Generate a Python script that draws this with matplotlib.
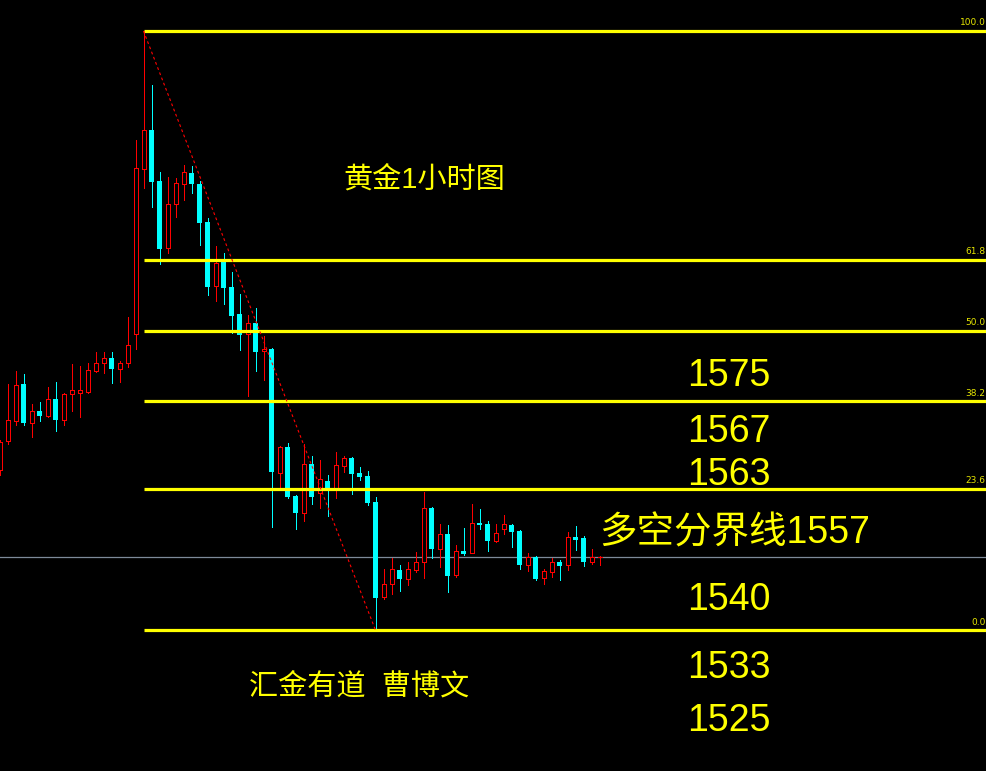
import matplotlib
matplotlib.use("Agg")
import matplotlib.pyplot as plt
import numpy as np

# Gold 1-hour candles (open, high, low, close)
opens = [1556.1, 1559.8, 1562.3, 1566.9, 1562.0, 1563.5, 1562.9, 1565.0, 1562.4, 1565.6,
         1565.8, 1565.9, 1568.5, 1569.5, 1570.1, 1568.8, 1569.5, 1573.1, 1593.8, 1598.6,
         1592.3, 1583.9, 1589.4, 1591.9, 1593.3, 1591.9, 1587.1, 1579.1, 1582.1, 1579.0,
         1575.6, 1573.1, 1574.5, 1571.0, 1571.3, 1555.8, 1559.0, 1552.9, 1550.8, 1556.9,
         1553.3, 1554.8, 1553.9, 1556.6, 1557.6, 1555.8, 1555.4, 1552.1, 1540.3, 1541.9,
         1543.6, 1542.5, 1543.6, 1544.6, 1551.4, 1546.3, 1548.1, 1543.0, 1546.0, 1545.8,
         1549.5, 1549.4, 1547.3, 1548.8, 1549.3, 1548.5, 1544.3, 1545.3, 1542.6, 1543.4,
         1544.6, 1544.3, 1547.8, 1547.6, 1544.6, 1545.2]
highs = [1559.9, 1566.9, 1568.5, 1568.1, 1564.4, 1564.6, 1566.5, 1567.1, 1565.8, 1569.4,
         1569.1, 1569.5, 1570.9, 1570.9, 1570.9, 1569.8, 1575.3, 1597.4, 1611.0, 1604.3,
         1593.4, 1592.8, 1592.6, 1594.3, 1594.1, 1592.3, 1587.6, 1584.1, 1583.3, 1580.9,
         1578.1, 1575.5, 1576.4, 1572.9, 1571.4, 1559.1, 1559.5, 1553.0, 1559.4, 1557.9,
         1557.4, 1555.5, 1558.4, 1557.9, 1557.7, 1556.5, 1556.0, 1552.8, 1543.8, 1545.1,
         1544.3, 1544.6, 1545.9, 1553.4, 1551.5, 1549.4, 1549.3, 1546.8, 1548.9, 1551.9,
         1551.3, 1549.8, 1549.4, 1550.5, 1549.4, 1548.6, 1545.8, 1545.4, 1543.8, 1545.1,
         1544.9, 1548.4, 1549.1, 1547.9, 1546.3, 1545.4]
lows = [1555.5, 1559.4, 1561.8, 1561.8, 1560.3, 1562.3, 1562.8, 1561.0, 1561.8, 1563.5,
        1562.8, 1565.8, 1568.4, 1568.3, 1567.0, 1567.1, 1569.0, 1571.3, 1591.4, 1589.0,
        1581.9, 1583.3, 1587.8, 1589.9, 1590.8, 1584.3, 1578.0, 1577.3, 1576.9, 1573.3,
        1571.1, 1565.4, 1568.5, 1567.4, 1549.0, 1553.6, 1552.6, 1548.8, 1549.8, 1551.9,
        1551.4, 1550.4, 1552.6, 1555.9, 1553.1, 1554.9, 1551.8, 1536.1, 1540.0, 1540.6,
        1541.0, 1541.8, 1543.4, 1542.6, 1545.1, 1544.0, 1540.9, 1542.8, 1545.5, 1545.7,
        1548.8, 1546.0, 1547.1, 1548.1, 1546.5, 1543.8, 1543.5, 1542.4, 1541.9, 1542.8,
        1542.4, 1543.6, 1546.1, 1544.1, 1544.4, 1544.3]
closes = [1559.6, 1562.4, 1566.8, 1562.0, 1563.5, 1562.9, 1565.0, 1562.4, 1565.6, 1566.1,
          1566.1, 1568.6, 1569.5, 1570.1, 1568.8, 1569.5, 1571.8, 1593.9, 1598.6, 1592.1,
          1583.8, 1589.4, 1592.0, 1593.4, 1591.9, 1587.0, 1579.0, 1582.0, 1578.9, 1575.4,
          1573.0, 1574.5, 1570.9, 1571.3, 1555.9, 1559.0, 1552.8, 1550.8, 1556.9, 1552.8,
          1555.0, 1553.5, 1556.8, 1557.6, 1555.6, 1555.3, 1552.0, 1540.1, 1541.9, 1543.8,
          1542.5, 1543.8, 1544.6, 1551.4, 1546.3, 1548.1, 1542.9, 1546.0, 1545.6, 1549.5,
          1549.3, 1547.3, 1548.3, 1549.4, 1548.4, 1544.3, 1545.3, 1542.5, 1543.5, 1544.6,
          1544.1, 1547.8, 1547.4, 1544.6, 1545.3, 1545.3]

fib_levels = [100.0, 61.8, 50.0, 38.2, 23.6, 0.0]
fib_labels = ["100.0", "61.8", "50.0", "38.2", "23.6", "0.0"]

title_text = "黄金1小时图"
author_text = "汇金有道  曹博文"
pivot_text = "多空分界线1557"
upper_levels = ["1575", "1567", "1563"]
lower_levels = ["1540", "1533", "1525"]

YELLOW = "#ffff00"
UP = "#ff0000"
DOWN = "#00ffff"

o = np.array(opens)
h = np.array(highs)
l = np.array(lows)
c = np.array(closes)
x = np.arange(len(o))

fig = plt.figure(figsize=(9.87, 7.71), dpi=100)
fig.patch.set_facecolor("black")
ax = fig.add_axes([0, 0, 1, 1])
ax.set_facecolor("black")
ax.set_xlim(0.0625, 0.0625 + 987 / 8)
ax.set_ylim(1518.5, 1614.875)
ax.axis("off")

px = 72 / 100  # one pixel in points
up = c >= o
dn = ~up
ax.vlines(x[up], l[up], h[up], color=UP, lw=px, antialiased=False, zorder=2)
ax.vlines(x[dn], l[dn], h[dn], color=DOWN, lw=px, antialiased=False, zorder=2)
ax.bar(x[up], (c - o)[up], bottom=o[up], width=0.5, facecolor="black",
       edgecolor=UP, linewidth=px, antialiased=False, zorder=3)
ax.bar(x[dn], (o - c)[dn], bottom=c[dn], width=0.625, color=DOWN,
       linewidth=0, antialiased=False, zorder=3)

# fibonacci retracement from the spike high to the swing low
i_hi = int(np.argmax(h))
i_lo = int(np.argmin(l))
hi, lo = h[i_hi], l[i_lo]
x_end = ax.get_xlim()[1]
for lev, lab in zip(fib_levels, fib_labels):
    yv = lo + (hi - lo) * lev / 100.0
    ax.hlines(yv, i_hi, x_end, color=YELLOW, lw=2.3, zorder=4)
    ax.text(x_end - 0.2, yv + 0.45, lab, color="#e6e600", fontsize=6.5,
            ha="right", va="bottom", family="DejaVu Sans", zorder=5)

ax.plot([i_hi, i_lo], [hi, lo], color=UP, lw=0.8, ls=(0, (2.5, 2.5)), zorder=4)

# current price line
ax.axhline(c[-1], color="#7d8a99", lw=0.9, zorder=1)

fam = ["Liberation Sans", "Noto Sans CJK SC"]
ax.text(0.3475, 0.7667, title_text, transform=ax.transAxes, color=YELLOW,
        fontsize=21, ha="left", va="center", family=fam)
ax.text(0.2523, 0.1100, author_text, transform=ax.transAxes, color=YELLOW,
        fontsize=21, ha="left", va="center", family=fam)
ax.text(0.6069, 0.3076, pivot_text, transform=ax.transAxes, color=YELLOW,
        fontsize=27, ha="left", va="center", family=fam)
for lab, yy in zip(upper_levels, [0.5120, 0.4400, 0.3845]):
    ax.text(0.696, yy, lab, transform=ax.transAxes, color=YELLOW,
            fontsize=27, ha="left", va="center", family=fam)
for lab, yy in zip(lower_levels, [0.2222, 0.1336, 0.0648]):
    ax.text(0.696, yy, lab, transform=ax.transAxes, color=YELLOW,
            fontsize=27, ha="left", va="center", family=fam)

fig.savefig("out.png", dpi=100, facecolor="black")
